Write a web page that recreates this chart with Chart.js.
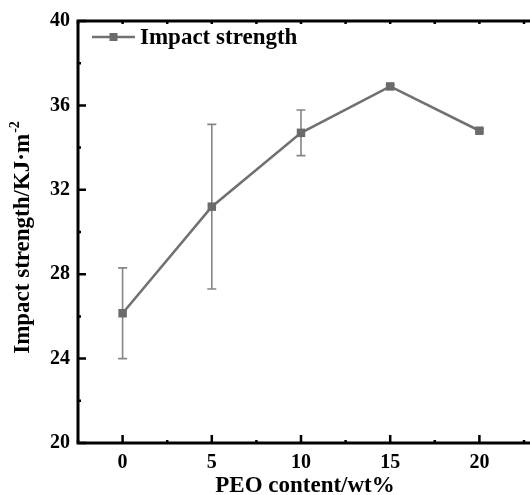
<!DOCTYPE html>
<html>
<head>
<meta charset="utf-8">
<script src="https://cdn.jsdelivr.net/npm/chart.js@4/dist/chart.umd.min.js"></script>
<style>
  html, body { margin: 0; padding: 0; background: #ffffff; }
  #wrap { width: 530px; height: 495px; position: relative; }
</style>
</head>
<body>
<div id="wrap"><canvas id="c" width="530" height="495"></canvas></div>
<script>
// PEO content (wt%) and measured impact strength (kJ/m^2)
const peoContent = [0, 5, 10, 15, 20];
const impactStrength = [26.15, 31.2, 34.7, 36.9, 34.8];
const impactError = [2.15, 3.9, 1.08, 0.08, 0.08];

// axis ticks
const xMajorTicks = [0, 5, 10, 15, 20];
const xMinorTicks = [-2.5, 2.5, 7.5, 12.5, 17.5, 22.5];
const yMajorTicks = [20, 24, 28, 32, 36, 40];
const yMinorTicks = [22, 26, 30, 34, 38];

const seriesName = 'Impact strength';
const xTitle = 'PEO content/wt%';
const yTitleMain = 'Impact strength/KJ\u00B7m';
const yTitleSup = '-2';

const FONT = '"Liberation Serif", "Times New Roman", serif';
const LINE_GRAY = '#717171';
const MARK_GRAY = '#6b6b6b';
const ERR_GRAY = '#858585';

const frame = {
  id: 'frame',
  beforeDatasetsDraw(chart) {
    const ctx = chart.ctx;
    const x = chart.scales.x, y = chart.scales.y;
    ctx.save();
    ctx.strokeStyle = ERR_GRAY;
    ctx.lineWidth = 1.6;
    peoContent.forEach((v, i) => {
      const px = x.getPixelForValue(v);
      const top = y.getPixelForValue(impactStrength[i] + impactError[i]);
      const bot = y.getPixelForValue(impactStrength[i] - impactError[i]);
      ctx.beginPath();
      ctx.moveTo(px, top); ctx.lineTo(px, bot);
      ctx.moveTo(px - 4.5, top); ctx.lineTo(px + 4.5, top);
      ctx.moveTo(px - 4.5, bot); ctx.lineTo(px + 4.5, bot);
      ctx.stroke();
    });
    ctx.restore();
  },
  afterDraw(chart) {
    const ctx = chart.ctx;
    const a = chart.chartArea;
    const x = chart.scales.x, y = chart.scales.y;
    const W = chart.width;
    ctx.save();
    ctx.strokeStyle = '#000';
    ctx.lineWidth = 3;
    ctx.lineCap = 'butt';
    // axis frame (the right-hand side runs off the canvas edge)
    ctx.beginPath();
    ctx.moveTo(a.left, a.top - 1.5); ctx.lineTo(a.left, a.bottom + 1.5);
    ctx.moveTo(a.left - 1.5, a.bottom); ctx.lineTo(W, a.bottom);
    ctx.moveTo(a.left - 1.5, a.top); ctx.lineTo(W, a.top);
    ctx.stroke();
    // inward tick marks
    ctx.lineWidth = 2.5;
    ctx.beginPath();
    xMajorTicks.forEach(v => {
      const px = x.getPixelForValue(v);
      ctx.moveTo(px, a.bottom); ctx.lineTo(px, a.bottom - 8);
      ctx.moveTo(px, a.top); ctx.lineTo(px, a.top + 3);
    });
    xMinorTicks.forEach(v => {
      const px = x.getPixelForValue(v);
      ctx.moveTo(px, a.bottom); ctx.lineTo(px, a.bottom - 3);
      ctx.moveTo(px, a.top); ctx.lineTo(px, a.top + 3);
    });
    yMajorTicks.forEach(v => {
      const py = y.getPixelForValue(v);
      ctx.moveTo(a.left, py); ctx.lineTo(a.left + 8, py);
    });
    yMinorTicks.forEach(v => {
      const py = y.getPixelForValue(v);
      ctx.moveTo(a.left, py); ctx.lineTo(a.left + 3, py);
    });
    ctx.stroke();

    // legend
    const ly = 37;
    ctx.strokeStyle = LINE_GRAY;
    ctx.lineWidth = 2.6;
    ctx.beginPath();
    ctx.moveTo(92, ly); ctx.lineTo(135, ly);
    ctx.stroke();
    ctx.fillStyle = MARK_GRAY;
    ctx.fillRect(109.5, ly - 4, 8, 8);
    ctx.fillStyle = '#000';
    ctx.font = 'bold 23px ' + FONT;
    ctx.textAlign = 'left';
    ctx.textBaseline = 'alphabetic';
    ctx.fillText(seriesName, 140, 44);

    // x title
    ctx.textAlign = 'center';
    ctx.fillText(xTitle, (a.left + a.right) / 2 + 4, 491.5);

    // y title with superscript
    ctx.translate(28.5, 238);
    ctx.rotate(-Math.PI / 2);
    ctx.font = 'bold 23px ' + FONT;
    const wMain = ctx.measureText(yTitleMain).width;
    ctx.font = 'bold 14px ' + FONT;
    const wSup = ctx.measureText(yTitleSup).width;
    const start = -(wMain + wSup) / 2;
    ctx.textAlign = 'left';
    ctx.font = 'bold 23px ' + FONT;
    ctx.fillText(yTitleMain, start, 0);
    ctx.font = 'bold 14px ' + FONT;
    ctx.fillText(yTitleSup, start + wMain + 1, -10);
    ctx.restore();
  }
};

new Chart(document.getElementById('c'), {
  type: 'scatter',
  data: {
    datasets: [{
      label: seriesName,
      data: peoContent.map((v, i) => ({ x: v, y: impactStrength[i] })),
      showLine: true,
      borderColor: LINE_GRAY,
      borderWidth: 2.6,
      pointStyle: 'rect',
      pointRadius: 6,
      pointHoverRadius: 6,
      pointBackgroundColor: MARK_GRAY,
      pointBorderColor: MARK_GRAY,
      pointBorderWidth: 0,
      tension: 0
    }]
  },
  options: {
    responsive: false,
    animation: false,
    events: [],
    layout: { padding: { top: 21, right: 1, left: 0, bottom: 0 } },
    plugins: { legend: { display: false }, tooltip: { enabled: false } },
    scales: {
      x: {
        type: 'linear',
        min: -2.5, max: 22.5,
        grid: { display: false, drawTicks: false },
        border: { display: false },
        afterBuildTicks: s => { s.ticks = xMajorTicks.map(v => ({ value: v })); },
        afterFit: s => { s.height = 52; },
        ticks: { color: '#000', padding: 8, maxRotation: 0, font: { family: FONT, size: 20, weight: 'bold' } }
      },
      y: {
        min: 20, max: 40,
        grid: { display: false, drawTicks: false },
        border: { display: false },
        afterBuildTicks: s => { s.ticks = yMajorTicks.map(v => ({ value: v })); },
        afterFit: s => { s.width = 78; },
        ticks: { color: '#000', padding: 8, font: { family: FONT, size: 20, weight: 'bold' } }
      }
    }
  },
  plugins: [frame]
});
</script>
</body>
</html>
